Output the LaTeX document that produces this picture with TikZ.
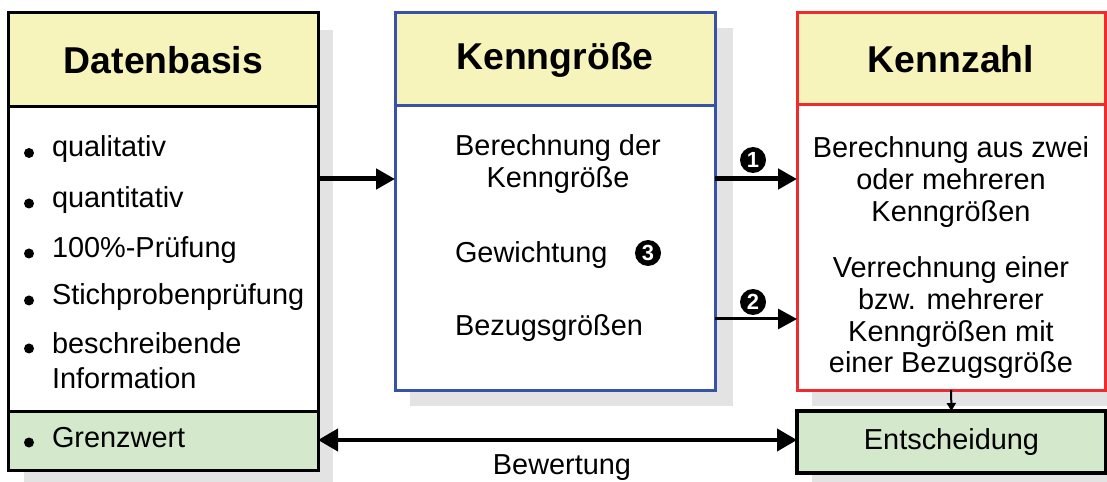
\documentclass[tikz,border=0pt]{standalone}
\usepackage{fontspec}
\setmainfont{Liberation Sans}
\usetikzlibrary{arrows.meta}

\definecolor{headyellow}{HTML}{F6F3BB}
\definecolor{panelgreen}{HTML}{D4E9CC}
\definecolor{shadowgray}{HTML}{E3E3E3}
\definecolor{kgblue}{HTML}{3752A6}
\definecolor{kzred}{HTML}{EE2B2E}

\tikzset{
  panel/.style={rectangle, line width=3bp, inner sep=0pt, outer sep=0pt},
  headtext/.style={font=\fontsize{37.5}{40}\selectfont\bfseries},
  bodytext/.style={font=\fontsize{29}{33}\selectfont, inner sep=0pt, outer sep=0pt},
  listbullet/.style={circle, fill=black, minimum size=10bp, inner sep=0pt},
  numbadge/.style={circle, fill=black, text=white, minimum size=26bp, inner sep=0pt,
    font=\fontsize{22}{22}\selectfont\bfseries},
  bigarrow/.style={line width=5bp, -{Triangle[length=19bp,width=20bp]}},
}

\begin{document}
\begin{tikzpicture}[x=1bp, y=-1bp]
\useasboundingbox (0,0) rectangle (1107,482);

% drop shadows
\fill[shadowgray] (24,30) rectangle (333,488);
\fill[shadowgray] (410,28) rectangle (733,406);
\fill[shadowgray] (812,28) rectangle (1121,406);
\fill[shadowgray] (812,426) rectangle (1121,488);

% Datenbasis column
\node[panel, draw=black, fill=headyellow, minimum width=309bp, minimum height=94bp, headtext]
  (dbhead) at (163.5,60) {Datenbasis};
\node[panel, draw=black, fill=white, minimum width=309bp, minimum height=305bp]
  (dbbody) at (163.5,259.5) {};
\node[panel, draw=black, fill=panelgreen, minimum width=309bp, minimum height=58bp]
  (grenz) at (163.5,441) {};

% Kenngroesse column
\node[panel, draw=kgblue, fill=headyellow, minimum width=320bp, minimum height=93bp, headtext]
  (kghead) at (555,59.5) {Kenngröße};
\node[panel, draw=kgblue, fill=white, minimum width=320bp, minimum height=284bp]
  (kgbody) at (555,248) {};

% Kennzahl column
\node[panel, draw=kzred, fill=headyellow, minimum width=308bp, minimum height=92bp, headtext]
  (kzhead) at (951,59) {Kennzahl};
\node[panel, draw=kzred, fill=white, minimum width=308bp, minimum height=285bp]
  (kzbody) at (951,247.5) {};
\node[panel, draw=black, line width=3.5bp, fill=panelgreen, minimum width=309bp, minimum height=62bp,
  font=\fontsize{29}{33}\selectfont]
  (ent) at (951.5,442) {Entscheidung};

% list of the data basis (multi-line nodes are placed by their last baseline)
\node[listbullet] (b1) at (29,153) {};
\node[bodytext, anchor=base west] (l1) at (52,157) {qualitativ};
\node[listbullet] (b2) at (29,203.5) {};
\node[bodytext, anchor=base west] (l2) at (52,208) {quantitativ};
\node[listbullet] (b3) at (29,253.5) {};
\node[bodytext, anchor=base west] (l3) at (52,258) {100\%-Prüfung};
\node[listbullet] (b4) at (29,300.5) {};
\node[bodytext, anchor=base west] (l4) at (52,305) {Stichprobenprüfung};
\node[listbullet] (b5) at (29,348.5) {};
\node[bodytext, anchor=base west, align=left, font=\fontsize{29}{35}\selectfont]
  (l5) at (52,388) {beschreibende\\Information};
\node[listbullet] (b6) at (29,442.5) {};
\node[bodytext, anchor=base west] (l6) at (52,447) {Grenzwert};

% contents of the Kenngroesse panel
\node[bodytext, anchor=base, align=center] (kg1) at (558,188) {Berechnung der\\Kenngröße};
\node[bodytext, anchor=base west] (kg2) at (455,263) {Gewichtung};
\node[numbadge] (n3) at (648,253) {3};
\node[bodytext, anchor=base west] (kg3) at (455,336) {Bezugsgrößen};

% contents of the Kennzahl panel
\node[bodytext, anchor=base, align=center, font=\fontsize{29}{32.5}\selectfont]
  (kz1) at (951,222) {Berechnung aus zwei\\oder mehreren\\Kenngrößen};
\node[bodytext, anchor=base, align=center, font=\fontsize{29}{32}\selectfont]
  (kz2) at (951,373) {Verrechnung einer\\bzw. mehrerer\\Kenngrößen mit\\einer Bezugsgröße};

% connectors
\draw[bigarrow] (dbbody.east |- 0,179) -- (kgbody.west |- 0,179);
\draw[bigarrow] (kgbody.east |- 0,179) -- (kzbody.west |- 0,179);
\draw[line width=3bp, -{Triangle[length=19bp,width=20bp]}]
  (kgbody.east |- 0,319) -- (kzbody.west |- 0,319);
\node[numbadge] (n1) at (753,160) {1};
\node[numbadge] (n2) at (753,302) {2};

\draw[line width=4bp, {Triangle[length=20bp,width=22bp]}-{Triangle[length=20bp,width=22bp]}]
  (grenz.east |- 0,440) -- (ent.west |- 0,440);
\node[bodytext, anchor=base] (bew) at (562,474) {Bewertung};

\draw[line width=2bp, -{Triangle[length=8bp,width=9bp]}] (kzbody.south) -- (ent.north);
\end{tikzpicture}
\end{document}
